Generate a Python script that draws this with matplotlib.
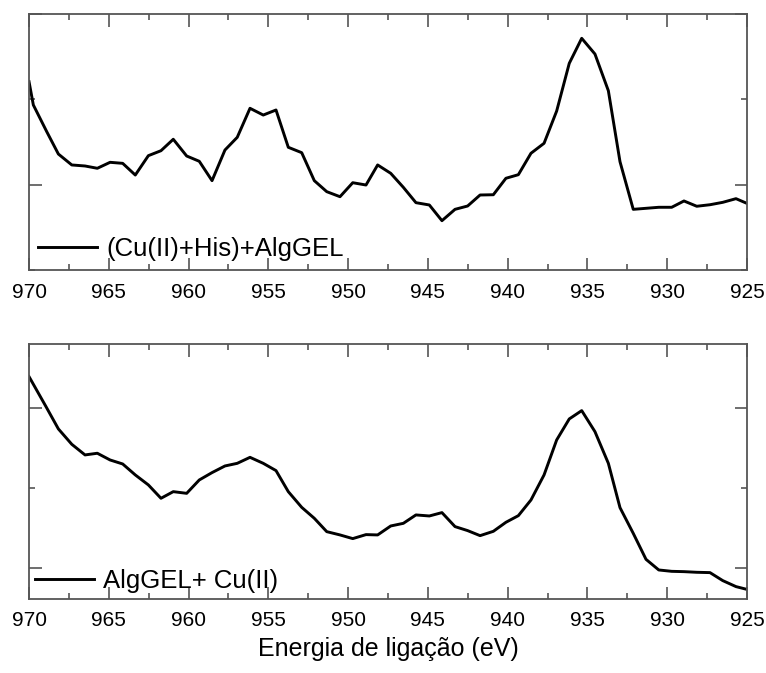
import matplotlib.pyplot as plt
from matplotlib.ticker import MultipleLocator

plt.rcParams['font.family'] = ['Liberation Sans', 'DejaVu Sans']

# binding energy (eV) and intensity (arb. units) for (Cu(II)+His)+AlgGEL
energiaHis = [970.0, 969.73, 968.89, 968.16, 967.32, 966.49, 965.72, 964.92, 964.13,
              963.34, 962.52, 961.73, 960.96, 960.12, 959.33, 958.53, 957.72, 956.95,
              956.15, 955.32, 954.52, 953.75, 952.91, 952.12, 951.34, 950.51, 949.71,
              948.88, 948.15, 947.33, 946.54, 945.75, 944.91, 944.12, 943.30, 942.51,
              941.73, 940.90, 940.11, 939.33, 938.54, 937.72, 936.93, 936.14, 935.36,
              934.53, 933.69, 932.96, 932.13, 931.33, 930.53, 929.72, 928.95, 928.15,
              927.32, 926.52, 925.69, 925.02]
intensHis = [2.207, 1.934, 1.621, 1.359, 1.231, 1.219, 1.192, 1.262, 1.250,
             1.113, 1.340, 1.398, 1.532, 1.336, 1.274, 1.047, 1.406, 1.555,
             1.895, 1.816, 1.875, 1.438, 1.375, 1.047, 0.918, 0.859, 1.023,
             0.996, 1.231, 1.133, 0.969, 0.789, 0.762, 0.578, 0.711, 0.750,
             0.879, 0.882, 1.075, 1.117, 1.368, 1.485, 1.863, 2.422, 2.715,
             2.531, 2.101, 1.269, 0.711, 0.723, 0.735, 0.735, 0.809, 0.747,
             0.765, 0.793, 0.836, 0.782]

# binding energy (eV) and intensity (arb. units) for AlgGEL+ Cu(II)
energiaCu = [970.0, 968.96, 968.16, 967.32, 966.49, 965.72, 964.92, 964.13, 963.34,
             962.52, 961.73, 960.96, 960.12, 959.33, 958.53, 957.72, 956.95, 956.15,
             955.32, 954.52, 953.75, 952.91, 952.12, 951.34, 950.51, 949.71, 948.88,
             948.15, 947.33, 946.54, 945.75, 944.91, 944.12, 943.30, 942.51, 941.73,
             940.90, 940.11, 939.33, 938.54, 937.72, 936.93, 936.14, 935.36, 934.53,
             933.69, 932.96, 932.13, 931.33, 930.53, 929.72, 928.95, 928.15, 927.32,
             926.52, 925.69, 925.02]
intensCu = [3.392, 3.025, 2.738, 2.546, 2.413, 2.434, 2.350, 2.300, 2.163,
            2.038, 1.871, 1.954, 1.933, 2.100, 2.192, 2.275, 2.308, 2.383,
            2.308, 2.217, 1.954, 1.758, 1.621, 1.454, 1.413, 1.367, 1.417,
            1.413, 1.525, 1.558, 1.663, 1.650, 1.692, 1.517, 1.467, 1.404,
            1.458, 1.571, 1.654, 1.850, 2.163, 2.600, 2.863, 2.967, 2.704,
            2.308, 1.754, 1.433, 1.108, 0.975, 0.958, 0.954, 0.946, 0.942,
            0.842, 0.767, 0.733]

SPINE = '#555555'

def styleAxis(ax, ylim):
    ax.set_xlim(970, 925)
    ax.set_ylim(*ylim)
    ax.xaxis.set_major_locator(MultipleLocator(5))
    ax.xaxis.set_minor_locator(MultipleLocator(2.5))
    ax.yaxis.set_major_locator(MultipleLocator(2, offset=1))
    ax.yaxis.set_minor_locator(MultipleLocator(1))
    ax.tick_params(which='both', direction='in', top=True, right=True,
                   color=SPINE, width=1.2, labelsize=15, pad=9)
    ax.tick_params(which='major', length=9)
    ax.tick_params(which='minor', length=4.5)
    ax.tick_params(axis='y', labelleft=False)
    for s in ax.spines.values():
        s.set_color(SPINE)
        s.set_linewidth(1.3)

def addLegend(ax, pad):
    ax.legend(loc='lower left', frameon=False, fontsize=18.5, handlelength=2.3,
              handletextpad=0.35, borderaxespad=pad, borderpad=0.1)

fig = plt.figure(figsize=(7.66, 6.73), dpi=100)
ax1 = fig.add_axes([0.0379, 0.5988, 0.9373, 0.3804])
ax2 = fig.add_axes([0.0379, 0.1100, 0.9373, 0.3789])

ax1.plot(energiaHis, intensHis, color='black', lw=2.1, label='(Cu(II)+His)+AlgGEL')
styleAxis(ax1, (0, 3))
addLegend(ax1, 0.25)

ax2.plot(energiaCu, intensCu, color='black', lw=2.1, label='AlgGEL+ Cu(II)')
styleAxis(ax2, (0.6125, 3.8))
addLegend(ax2, 0.12)
ax2.set_xlabel('Energia de ligação (eV)', fontsize=18, labelpad=5)

fig.savefig('out.png', dpi=100)
